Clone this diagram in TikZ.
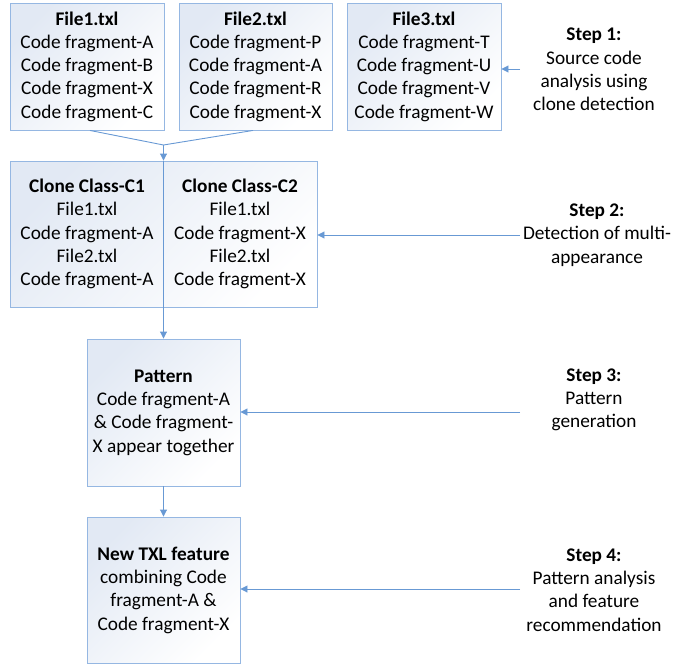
\documentclass[tikz,border=0pt]{standalone}
\usepackage{fontspec}
\setmainfont{Carlito}
\usetikzlibrary{arrows.meta}
\definecolor{boxedge}{RGB}{149,183,226}
\definecolor{boxtint}{RGB}{226,233,244}
\definecolor{connblue}{RGB}{104,153,212}
\tikzset{
  stagebox/.style={draw=boxedge, line width=0.9pt, top color=boxtint, bottom color=white,
    shading angle=45, inner sep=0pt, align=center},
  plain/.style={inner sep=0pt, align=center},
  conn/.style={draw=connblue, line width=0.9pt},
  arr/.style={conn, -{Triangle[length=7pt,width=7pt]}},
}
\begin{document}
\begin{tikzpicture}[x=1pt, y=-1pt, font=\fontsize{19.3}{23.3}\selectfont]
\useasboundingbox (0,0) rectangle (691,664);

% source files
\node[stagebox, minimum width=154pt, minimum height=127pt] (f1) at (87,66.5)
  {\textbf{File1.txl}\\Code fragment-A\\Code fragment-B\\Code fragment-X\\Code fragment-C};
\node[stagebox, minimum width=153pt, minimum height=127pt] (f2) at (255.5,66.5)
  {\textbf{File2.txl}\\Code fragment-P\\Code fragment-A\\Code fragment-R\\Code fragment-X};
\node[stagebox, minimum width=154pt, minimum height=127pt] (f3) at (424,66.5)
  {\textbf{File3.txl}\\Code fragment-T\\Code fragment-U\\Code fragment-V\\Code fragment-W};

% clone classes
\node[stagebox, minimum width=307pt, minimum height=146pt] (cc) at (163.5,234) {};
\node[plain] (c1) at (87,234)
  {\textbf{Clone Class-C1}\\File1.txl\\Code fragment-A\\File2.txl\\Code fragment-A};
\node[plain] (c2) at (240,234)
  {\textbf{Clone Class-C2}\\File1.txl\\Code fragment-X\\File2.txl\\Code fragment-X};

% pattern and feature
\node[stagebox, minimum width=153pt, minimum height=147pt] (pat) at (163.5,412.5)
  {\textbf{Pattern}\\Code fragment-A\\\& Code fragment-\\X appear together};
\node[stagebox, minimum width=153pt, minimum height=146pt] (feat) at (163.5,590)
  {\textbf{New TXL feature}\\combining Code\\fragment-A \&\\Code fragment-X};

% step descriptions
\node[plain] (s1) at (594,69.5)
  {\textbf{Step 1:}\\Source code\\analysis using\\clone detection};
\node[plain] (s2) at (597,235)
  {\textbf{Step 2:}\\Detection of multi-\\appearance};
\node[plain] (s3) at (594,400)
  {\textbf{Step 3:}\\Pattern\\generation};
\node[plain] (s4) at (594,590)
  {\textbf{Step 4:}\\Pattern analysis\\and feature\\recommendation};

% connectors
\coordinate (j) at (163.5,145);
\coordinate (t1) at (520,69);
\coordinate (t2) at (520,235);
\coordinate (t3) at (520,412);
\coordinate (t4) at (520,589);

\draw[conn] (f1.south -| 90,0) -- (j);
\draw[conn] (f2.south -| 253,0) -- (j);
\draw[arr] (j) -- (cc.north);
\draw[arr] (cc.north) -- (pat.north);
\draw[arr] (pat.south) -- (feat.north);

\draw[arr] (t1) -- (f3.east |- t1);
\draw[arr] (t2) -- (cc.east |- t2);
\draw[arr] (t3) -- (pat.east |- t3);
\draw[arr] (t4) -- (feat.east |- t4);
\end{tikzpicture}
\end{document}
